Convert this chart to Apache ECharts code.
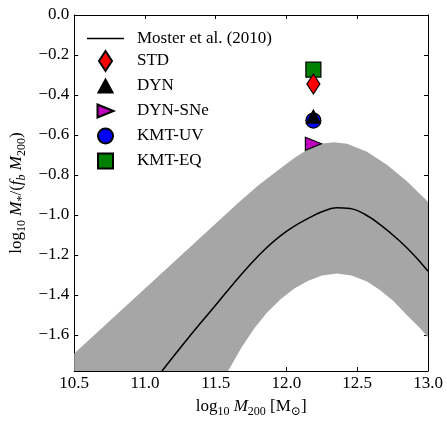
<!DOCTYPE html>
<html>
<head>
<meta charset="utf-8">
<script src="https://cdn.jsdelivr.net/npm/echarts@6/dist/echarts.min.js"></script>
<style>
  html, body { margin: 0; padding: 0; background: #fff; }
  #chart { width: 447px; height: 423px; }
</style>
</head>
<body>
<div id="chart"></div>
<script>
  // shaded band: upper and lower edges
  const upperX = [10.5, 11.0, 11.506, 11.65, 11.797, 11.961, 12.05, 12.148, 12.241, 12.335, 12.428, 12.569, 12.709, 12.849, 13.0];
  const upperY = [-1.693, -1.367, -1.039, -0.945, -0.854, -0.765, -0.718, -0.672, -0.644, -0.636, -0.644, -0.684, -0.749, -0.83, -0.934];
  const lowerX = [10.5, 11.587, 11.68, 11.774, 11.86, 11.96, 12.05, 12.15, 12.25, 12.358, 12.46, 12.569, 12.66, 12.755, 12.85, 12.943, 13.0];
  const lowerY = [-1.78, -1.78, -1.665, -1.565, -1.49, -1.42, -1.37, -1.33, -1.303, -1.292, -1.303, -1.333, -1.375, -1.43, -1.5, -1.565, -1.612];

  // Moster et al. (2010) mean relation
  const mosterX = [11.12, 11.3, 11.5, 11.65, 11.75, 11.85, 11.95, 12.05, 12.15, 12.25, 12.35, 12.45, 12.55, 12.66, 12.8, 12.9, 13.0];
  const mosterY = [-1.78, -1.62, -1.45, -1.322, -1.242, -1.17, -1.108, -1.058, -1.018, -0.984, -0.964, -0.968, -0.995, -1.047, -1.13, -1.2, -1.281];

  // simulation runs, all at the same halo mass
  const runMass = 12.19;
  const runNames = ["STD", "DYN", "DYN-SNe", "KMT-UV", "KMT-EQ"];
  const runValues = [-0.345, -0.508, -0.644, -0.528, -0.273];

  const xTicks = { min: 10.5, max: 13.0, interval: 0.5 };
  const yRange = { min: -1.78, max: 0.0 };

  const serif = "'Liberation Serif', 'DejaVu Serif', serif";
  const black = "#000";

  // every marker lives in the same 20x20 box so legend and plot sizes match
  const box = "M0,0M20,20";
  const runStyle = {
    "STD": { symbol: "path://" + box + "M10,0L16.5,10L10,20L3.5,10Z", color: "#ff0000" },
    "DYN": { symbol: "path://" + box + "M10,3.5L17,16.5L3,16.5Z", color: "#000000" },
    "DYN-SNe": { symbol: "path://" + box + "M2,3.5L18,10L2,16.5Z", color: "#bf00bf" },
    "KMT-UV": { symbol: "path://" + box + "M10,2.5A7.5,7.5,0,1,1,10,17.5A7.5,7.5,0,1,1,10,2.5Z", color: "#0000ff" },
    "KMT-EQ": { symbol: "path://" + box + "M2.5,2.5H17.5V17.5H2.5Z", color: "#008000" }
  };
  // draw order: square under diamond, circle under triangle
  const drawOrder = ["KMT-EQ", "STD", "KMT-UV", "DYN", "DYN-SNe"];

  const richText = {
    a: { fontFamily: serif, fontSize: 17, color: black, lineHeight: 22 },
    i: { fontFamily: serif, fontSize: 17, fontStyle: "italic", color: black, lineHeight: 22 },
    s: { fontFamily: serif, fontSize: 12, color: black, lineHeight: 14, verticalAlign: "bottom" },
    si: { fontFamily: serif, fontSize: 12, fontStyle: "italic", color: black, lineHeight: 14, verticalAlign: "bottom" }
  };

  const fmt = (v) => {
    const s = Math.abs(v).toFixed(1);
    return v < -1e-9 ? "\u2212" + s : s;
  };

  const axisLine = { show: true, onZero: false, lineStyle: { color: black, width: 1 } };
  const axisTick = { show: true, inside: true, length: 4, lineStyle: { color: black, width: 1 } };
  const tickFont = { fontFamily: serif, fontSize: 17, color: black };

  const chart = echarts.init(document.getElementById("chart"), null, { renderer: "canvas" });

  const upperPts = upperX.map((x, i) => [x, upperY[i]]);
  const lowerPts = lowerX.map((x, i) => [x, lowerY[i]]);

  const series = [
    {
      name: "band",
      type: "custom",
      data: upperPts,
      encode: { x: 0, y: 1 },
      silent: true,
      z: 1,
      renderItem(params, api) {
        if (params.dataIndex !== 0) return null;
        const pts = upperPts.map((p) => api.coord(p));
        for (let i = lowerPts.length - 1; i >= 0; i--) pts.push(api.coord(lowerPts[i]));
        return {
          type: "polygon",
          shape: { points: pts },
          style: { fill: "#a6a6a6", stroke: "none" }
        };
      }
    },
    {
      name: "Moster et al. (2010)",
      type: "line",
      data: mosterX.map((x, i) => [x, mosterY[i]]),
      symbol: "none",
      smooth: 0.4,
      lineStyle: { color: black, width: 1.5 },
      itemStyle: { color: black },
      z: 3
    }
  ];

  drawOrder.forEach((name, k) => {
    const st = runStyle[name];
    series.push({
      name,
      type: "scatter",
      data: [[runMass, runValues[runNames.indexOf(name)]]],
      symbol: st.symbol,
      symbolSize: 20,
      symbolKeepAspect: true,
      itemStyle: { color: st.color, borderColor: black, borderWidth: 1.2, opacity: 1 },
      z: 4 + k
    });
  });

  const legendData = [
    { name: "Moster et al. (2010)", icon: "path://M0,0H37V1.5H0Z", itemStyle: { color: black, borderWidth: 0 } }
  ].concat(runNames.map((name) => ({ name, icon: runStyle[name].symbol })));

  chart.setOption({
    animation: false,
    backgroundColor: "#fff",
    grid: { left: 72, right: 19, top: 15, bottom: 40 },
    legend: {
      data: legendData,
      orient: "vertical",
      left: 82,
      top: 25,
      itemWidth: 37,
      itemHeight: 20,
      itemGap: 3,
      selectedMode: false,
      textStyle: { fontFamily: serif, fontSize: 17, color: black, lineHeight: 16, padding: [0, 0, 0, 8] }
    },
    xAxis: [
      {
        type: "value",
        position: "bottom",
        min: xTicks.min,
        max: xTicks.max,
        interval: xTicks.interval,
        axisLine,
        axisTick,
        splitLine: { show: false },
        axisLabel: Object.assign({ margin: 4, formatter: fmt }, tickFont),
        name: "{a|log}{s|10}{a| }{i|M}{s|200}{a| [M}{s|\u2299}{a|]}",
        nameLocation: "middle",
        nameGap: 25,
        nameTextStyle: { rich: richText }
      },
      {
        type: "value",
        position: "top",
        min: xTicks.min,
        max: xTicks.max,
        interval: xTicks.interval,
        axisLine,
        axisTick,
        splitLine: { show: false },
        axisLabel: { show: false }
      }
    ],
    yAxis: [
      {
        type: "value",
        position: "left",
        min: yRange.min,
        max: yRange.max,
        splitNumber: 9,
        axisLine,
        axisTick,
        splitLine: { show: false },
        axisLabel: Object.assign({ margin: 5, formatter: fmt, showMinLabel: false }, tickFont),
        name: "{a|log}{s|10}{a| }{i|M}{s|*}{a|/(}{i|f}{si|b}{a| }{i|M}{s|200}{a|)}",
        nameLocation: "middle",
        nameRotate: 90,
        nameGap: 44,
        nameTextStyle: { rich: richText }
      },
      {
        type: "value",
        position: "right",
        min: yRange.min,
        max: yRange.max,
        splitNumber: 9,
        axisLine,
        axisTick,
        splitLine: { show: false },
        axisLabel: { show: false }
      }
    ],
    series
  });
</script>
</body>
</html>
